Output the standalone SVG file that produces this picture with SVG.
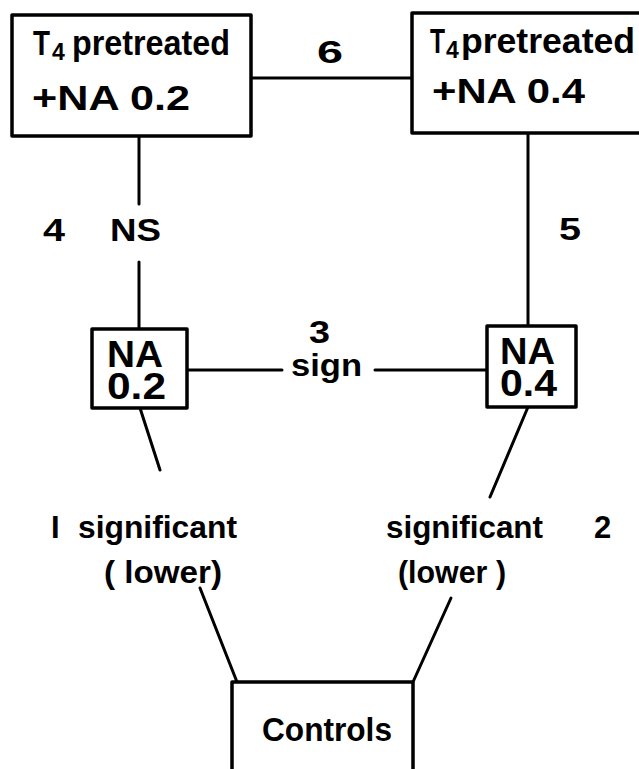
<svg xmlns="http://www.w3.org/2000/svg" width="639" height="769" viewBox="0 0 639 769">
  <style>
    .box { fill: #fff; stroke: #000; stroke-width: 3.5; stroke-linejoin: round; }
    .edge { fill: none; stroke: #000; stroke-width: 3; stroke-linecap: round; }
    text { font-family: "Liberation Sans", "DejaVu Sans", sans-serif; font-weight: bold; fill: #000; }
    .big { font-size: 35px; }
    .node { font-size: 37px; }
    .mid { font-size: 31px; }
    .ctl { font-size: 34px; }
    .sub { font-size: 23px; }
  </style>
  <rect width="639" height="769" fill="#fff"/>

  <!-- connectors -->
  <g id="connectors">
    <line class="edge" x1="251" y1="78" x2="412" y2="78"/>
    <line class="edge" x1="139" y1="136" x2="139" y2="204"/>
    <line class="edge" x1="139" y1="262" x2="139" y2="329"/>
    <line class="edge" x1="528" y1="133" x2="528" y2="326"/>
    <line class="edge" x1="187" y1="370" x2="282" y2="370"/>
    <line class="edge" x1="375" y1="370" x2="487" y2="370"/>
    <line class="edge" x1="140" y1="408" x2="160" y2="470"/>
    <line class="edge" x1="200" y1="588" x2="237" y2="682"/>
    <line class="edge" x1="528" y1="407" x2="490" y2="497"/>
    <line class="edge" x1="451" y1="598" x2="413" y2="682"/>
  </g>

  <!-- edge labels -->
  <g id="labels">
    <text class="mid" x="317" y="63" textLength="26" lengthAdjust="spacingAndGlyphs">6</text>
    <text class="mid" x="43" y="241" textLength="22" lengthAdjust="spacingAndGlyphs">4</text>
    <text class="mid" x="110" y="241" textLength="51" lengthAdjust="spacingAndGlyphs">NS</text>
    <text class="mid" x="559" y="240" textLength="22" lengthAdjust="spacingAndGlyphs">5</text>
    <text class="mid" x="309" y="343" textLength="21" lengthAdjust="spacingAndGlyphs">3</text>
    <text class="mid" x="291" y="376" textLength="71" lengthAdjust="spacingAndGlyphs">sign</text>
    <text class="mid" x="51" y="538"><tspan x="51">I</tspan><tspan x="78" textLength="159" lengthAdjust="spacingAndGlyphs">significant</tspan></text>
    <text class="mid" x="104" y="583" textLength="118" lengthAdjust="spacingAndGlyphs">( lower)</text>
    <text class="mid" x="386" y="538"><tspan x="386" textLength="157" lengthAdjust="spacingAndGlyphs">significant</tspan><tspan x="594">2</tspan></text>
    <text class="mid" x="398" y="583" textLength="108" lengthAdjust="spacingAndGlyphs">(lower )</text>
  </g>

  <!-- nodes -->
  <g id="t4-na02">
    <rect class="box" x="12" y="15" width="239" height="121"/>
    <text class="big" y="55"><tspan x="33" textLength="17" lengthAdjust="spacingAndGlyphs">T</tspan><tspan class="sub" x="52" y="60">4</tspan><tspan x="72" y="55" textLength="158" lengthAdjust="spacingAndGlyphs">pretreated</tspan></text>
    <text class="big" x="32" y="110" textLength="158" lengthAdjust="spacingAndGlyphs">+NA 0.2</text>
  </g>

  <g id="t4-na04">
    <rect class="box" x="412" y="13" width="240" height="120"/>
    <text class="big" y="53"><tspan x="430" textLength="15" lengthAdjust="spacingAndGlyphs">T</tspan><tspan class="sub" x="446" y="58">4</tspan><tspan x="461" y="53" textLength="174" lengthAdjust="spacingAndGlyphs">pretreated</tspan></text>
    <text class="big" x="432" y="103" textLength="153" lengthAdjust="spacingAndGlyphs">+NA 0.4</text>
  </g>

  <g id="na02">
    <rect class="box" x="92" y="329" width="95" height="79"/>
    <text class="node" x="107" y="367" textLength="56" lengthAdjust="spacingAndGlyphs">NA</text>
    <text class="node" x="107" y="399" textLength="59" lengthAdjust="spacingAndGlyphs">0.2</text>
  </g>

  <g id="na04">
    <rect class="box" x="487" y="326" width="89" height="81"/>
    <text class="node" x="500" y="364" textLength="55" lengthAdjust="spacingAndGlyphs">NA</text>
    <text class="node" x="500" y="396" textLength="57" lengthAdjust="spacingAndGlyphs">0.4</text>
  </g>

  <g id="controls">
    <rect class="box" x="232" y="682" width="181" height="110"/>
    <text class="ctl" x="262" y="741" textLength="130" lengthAdjust="spacingAndGlyphs">Controls</text>
  </g>
</svg>
